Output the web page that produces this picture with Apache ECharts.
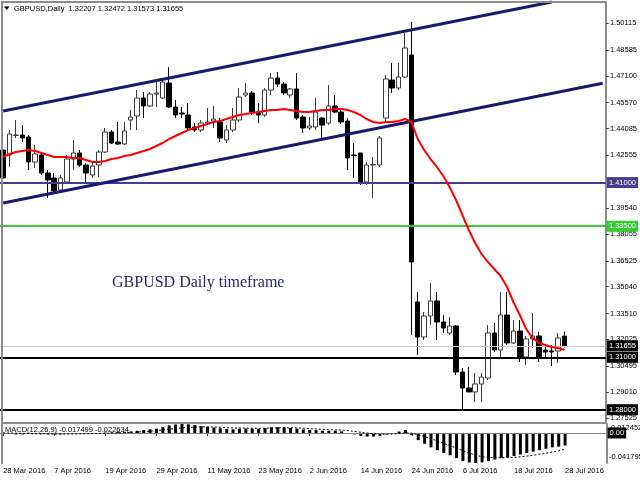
<!DOCTYPE html>
<html><head><meta charset="utf-8">
<script src="https://cdn.jsdelivr.net/npm/echarts@6/dist/echarts.min.js"></script>
<style>html,body{margin:0;padding:0;background:#fff}#c{width:640px;height:480px}</style>
</head><body><div id="c"></div>
<script>
// ---- categories (trading days) ----
const dates = [
'28 Mar 2016','29 Mar 2016','30 Mar 2016','31 Mar 2016',
'1 Apr 2016','4 Apr 2016','5 Apr 2016','6 Apr 2016','7 Apr 2016','8 Apr 2016','11 Apr 2016','12 Apr 2016','13 Apr 2016','14 Apr 2016','15 Apr 2016','18 Apr 2016','19 Apr 2016','20 Apr 2016','21 Apr 2016','22 Apr 2016','25 Apr 2016','26 Apr 2016','27 Apr 2016','28 Apr 2016','29 Apr 2016',
'2 May 2016','3 May 2016','4 May 2016','5 May 2016','6 May 2016','9 May 2016','10 May 2016','11 May 2016','12 May 2016','13 May 2016','16 May 2016','17 May 2016','18 May 2016','19 May 2016','20 May 2016','23 May 2016','24 May 2016','25 May 2016','26 May 2016','27 May 2016','30 May 2016','31 May 2016',
'1 Jun 2016','2 Jun 2016','3 Jun 2016','6 Jun 2016','7 Jun 2016','8 Jun 2016','9 Jun 2016','10 Jun 2016','13 Jun 2016','14 Jun 2016','15 Jun 2016','16 Jun 2016','17 Jun 2016','20 Jun 2016','21 Jun 2016','22 Jun 2016','23 Jun 2016','24 Jun 2016','27 Jun 2016','28 Jun 2016','29 Jun 2016','30 Jun 2016',
'1 Jul 2016','4 Jul 2016','5 Jul 2016','6 Jul 2016','7 Jul 2016','8 Jul 2016','11 Jul 2016','12 Jul 2016','13 Jul 2016','14 Jul 2016','15 Jul 2016','18 Jul 2016','19 Jul 2016','20 Jul 2016','21 Jul 2016','22 Jul 2016','25 Jul 2016','26 Jul 2016','27 Jul 2016','28 Jul 2016',
'29 Jul 2016','1 Aug 2016','2 Aug 2016','3 Aug 2016','4 Aug 2016','5 Aug 2016'
];
const barCount = 89;

// ---- OHLC ----
const open = [
1.42863,1.42577,1.43693,1.43722,1.43607,1.42177,1.42577,1.41547,1.41261,1.40574,
1.41032,1.42348,1.42692,1.42005,1.41433,1.42005,1.42749,1.43894,1.43321,1.43207,
1.44580,1.44809,1.45839,1.45382,1.46068,1.45839,1.46698,1.45324,1.44981,1.44867,
1.44180,1.44008,1.44409,1.44523,1.44466,1.43436,1.44008,1.44580,1.46011,1.46126,
1.45038,1.44867,1.46297,1.46984,1.46641,1.46011,1.46355,1.44752,1.44123,1.44180,
1.44695,1.44409,1.45382,1.45038,1.44523,1.42577,1.42692,1.41032,1.42005,1.42005,
1.44695,1.46870,1.46412,1.47041,1.48300,1.34165,1.32161,1.33363,1.34222,1.33020,
1.32390,1.32791,1.30158,1.29243,1.29014,1.29472,1.29815,1.32390,1.31417,1.33421,
1.31818,1.32505,1.31017,1.32047,1.32219,1.31417,1.31360,1.31360,1.32207
];
const close = [
1.41261,1.43779,1.43722,1.43550,1.42177,1.42635,1.41547,1.41147,1.40517,1.41261,
1.42348,1.42692,1.42005,1.41547,1.41948,1.42749,1.43894,1.43264,1.43207,1.43951,
1.44752,1.45839,1.45382,1.46068,1.46126,1.46755,1.45324,1.44867,1.44924,1.44123,
1.44008,1.44409,1.44466,1.44638,1.43550,1.44008,1.44580,1.45897,1.46126,1.45038,
1.44867,1.46297,1.46984,1.46641,1.46126,1.46355,1.44695,1.44123,1.44237,1.45038,
1.44294,1.45382,1.45038,1.44466,1.42406,1.42549,1.41032,1.42005,1.42034,1.43550,
1.46927,1.46412,1.47041,1.48701,1.36454,1.32161,1.33363,1.34222,1.33020,1.32677,
1.32791,1.30158,1.29243,1.29014,1.29472,1.29872,1.32390,1.31417,1.33421,1.31818,
1.32505,1.31017,1.32047,1.32219,1.31017,1.31303,1.31303,1.32104,1.31655
];
const low = [
1.41089,1.41891,1.43550,1.43321,1.41719,1.41833,1.41433,1.40116,1.40403,1.40460,
1.40975,1.41719,1.41891,1.40975,1.41261,1.41318,1.42692,1.43207,1.43150,1.43150,
1.44008,1.44008,1.44695,1.45324,1.45324,1.45782,1.45267,1.44695,1.44695,1.44008,
1.43894,1.43894,1.44294,1.44123,1.43321,1.43264,1.43894,1.44466,1.45897,1.44867,
1.44409,1.44752,1.46011,1.46469,1.46011,1.45839,1.44580,1.43836,1.44008,1.44008,
1.43550,1.44294,1.44981,1.44351,1.41719,1.41261,1.40860,1.40860,1.40116,1.41891,
1.44409,1.46126,1.46297,1.46984,1.32276,1.31131,1.31990,1.32848,1.31990,1.32390,
1.32276,1.29987,1.27984,1.29014,1.28442,1.28442,1.29701,1.31303,1.31017,1.31704,
1.31761,1.30731,1.30559,1.31532,1.30731,1.30902,1.30502,1.30674,1.31573
];
const high = [
1.43035,1.44008,1.44580,1.44294,1.43722,1.43150,1.42749,1.41719,1.41547,1.41433,
1.42577,1.43436,1.42863,1.42120,1.42177,1.42863,1.44123,1.44008,1.44466,1.44466,
1.45153,1.46297,1.46183,1.46183,1.46870,1.46984,1.47614,1.45725,1.45324,1.45553,
1.44409,1.44580,1.45267,1.45382,1.44695,1.44294,1.45267,1.46412,1.46698,1.46240,
1.45553,1.46412,1.47270,1.47327,1.46755,1.46412,1.47270,1.44867,1.44752,1.45839,
1.44752,1.46583,1.46011,1.45153,1.44695,1.43264,1.42692,1.42177,1.42463,1.43665,
1.47156,1.47843,1.47843,1.49559,1.50189,1.34737,1.33592,1.35252,1.34737,1.33421,
1.33306,1.32848,1.30387,1.30445,1.30101,1.30101,1.32848,1.32963,1.34737,1.34737,
1.33134,1.33134,1.32219,1.33535,1.32448,1.31589,1.31704,1.32390,1.32472
];

// ---- moving average (red) ----
const ma = [
1.42463,1.42635,1.42749,1.42806,1.42863,1.42806,1.42692,1.42577,1.42463,1.42463,
1.42463,1.42406,1.42406,1.42291,1.42177,1.42177,1.42234,1.42348,1.42406,1.42520,
1.42577,1.42692,1.42806,1.42921,1.43092,1.43264,1.43493,1.43665,1.43836,1.44008,
1.44123,1.44237,1.44351,1.44466,1.44523,1.44638,1.44752,1.44867,1.44924,1.44981,
1.45038,1.45096,1.45153,1.45153,1.45210,1.45153,1.45096,1.45038,1.45038,1.45096,
1.45153,1.45153,1.45210,1.45210,1.45153,1.45038,1.44867,1.44638,1.44466,1.44409,
1.44466,1.44466,1.44523,1.44638,1.44466,1.43493,1.42863,1.42348,1.41891,1.41376,
1.40746,1.40002,1.39143,1.38285,1.37541,1.36912,1.36454,1.36053,1.35653,1.35023,
1.34165,1.33421,1.32620,1.32104,1.31818,1.31704,1.31589,1.31532,1.31417
];

// ---- MACD(12,26,9) ----
const macdHist = [
-0.0010,-0.0015,-0.0020,-0.0020,-0.0015,-0.0015,-0.0018,-0.0020,-0.0022,-0.0020,
-0.0015,-0.0010,-0.0008,-0.0005,-0.0003,0.0000,0.0005,0.0008,0.0012,0.0016,
0.0020,0.0030,0.0040,0.0050,0.0060,0.0080,0.0105,0.0118,0.0124,0.0120,
0.0110,0.0095,0.0085,0.0075,0.0065,0.0055,0.0050,0.0058,0.0062,0.0060,
0.0058,0.0068,0.0078,0.0080,0.0078,0.0070,0.0060,0.0050,0.0042,0.0040,
0.0032,0.0030,0.0030,0.0022,0.0000,-0.0020,-0.0040,-0.0050,-0.0050,-0.0040,
-0.0020,0.0000,0.0020,0.0040,-0.0030,-0.0100,-0.0150,-0.0200,-0.0240,-0.0280,
-0.0310,-0.0350,-0.0390,-0.0410,-0.0418,-0.0410,-0.0390,-0.0370,-0.0350,-0.0340,
-0.0320,-0.0300,-0.0280,-0.0260,-0.0240,-0.0220,-0.0200,-0.0190,-0.017499
];
const macdSignal = [
0.0000,-0.0002,-0.0004,-0.0006,-0.0008,-0.0010,-0.0011,-0.0012,-0.0014,-0.0015,
-0.0015,-0.0014,-0.0013,-0.0011,-0.0009,-0.0007,-0.0005,-0.0002,0.0000,0.0003,
0.0008,0.0012,0.0018,0.0025,0.0033,0.0042,0.0052,0.0062,0.0070,0.0078,
0.0082,0.0084,0.0084,0.0082,0.0078,0.0074,0.0070,0.0070,0.0068,0.0066,
0.0065,0.0066,0.0068,0.0070,0.0072,0.0072,0.0070,0.0066,0.0060,0.0056,
0.0050,0.0046,0.0043,0.0040,0.0032,0.0022,0.0010,-0.0002,-0.0012,-0.0018,
-0.0018,-0.0015,-0.0008,0.0002,-0.0005,-0.0025,-0.0050,-0.0080,-0.0110,-0.0145,
-0.0178,-0.0212,-0.0248,-0.0280,-0.0310,-0.0330,-0.0340,-0.0345,-0.0345,-0.0343,
-0.0340,-0.0332,-0.0322,-0.0310,-0.0297,-0.0282,-0.0265,-0.0248,-0.022634
];

// ---- price scale ticks ----
const priceTicks = [1.50115,1.48585,1.47100,1.45570,1.44085,1.42555,1.39540,1.38055,1.36525,1.35040,1.33510,1.32025,1.30495,1.29010,1.27525];
const priceMin = 1.27297, priceMax = 1.51334;
const macdMin = -0.041795, macdMax = 0.012452;

// ---- horizontal levels & trend channel ----
const levelBlue = 1.41000, levelGreen = 1.38500, levelBlack1 = 1.31000, levelBlack2 = 1.28000, lastPrice = 1.31655;
const channelUpper = [[0, 1.45096], [86, 1.51331]];
const channelLower = [[0, 1.39830], [94, 1.46681]];

const headerText = 'GBPUSD,Daily  1.32207 1.32472 1.31573 1.31655';
const macdText = 'MACD(12,26,9) -0.017499 -0.022634';
const noteText = 'GBPUSD Daily timeframe';

const candles = [];
for (let i = 0; i < barCount; i++) candles.push([open[i], close[i], low[i], high[i]]);

const F = 'Liberation Sans';
const FS = 7.5;
function lvl(v, lineColor, boxColor, w) {
  return {
    yAxis: v,
    lineStyle: {color: lineColor, width: w, type: 'solid'},
    label: {show: true, position: 'end', formatter: v.toFixed(5), color: '#fff',
      backgroundColor: boxColor, padding: [2, 2, 1, 2], fontSize: FS, fontFamily: F, distance: 1}
  };
}
const showIdx = (idx) => idx % 8 === 0 && idx <= 88;

const chart = echarts.init(document.getElementById('c'), null, {renderer: 'canvas'});
chart.setOption({
  animation: false,
  backgroundColor: '#fff',
  textStyle: {fontFamily: F},
  grid: [
    {left: -1, top: 2, width: 607.6, height: 420},
    {left: -1, top: 424, width: 607.6, height: 39}
  ],
  xAxis: [
    {type: 'category', gridIndex: 0, data: dates, boundaryGap: true,
     axisLine: {show: false}, axisTick: {show: false}, axisLabel: {show: false}, splitLine: {show: false}},
    {type: 'category', gridIndex: 1, data: dates, boundaryGap: true,
     axisLine: {show: true, lineStyle: {color: '#8c8c8c', width: 1}},
     axisTick: {show: true, alignWithLabel: true, interval: showIdx, length: 3, lineStyle: {color: '#444'}},
     axisLabel: {show: true, interval: showIdx, align: 'left', fontSize: FS, color: '#000', margin: 4, fontFamily: F},
     splitLine: {show: false}}
  ],
  yAxis: [
    {type: 'value', gridIndex: 0, position: 'right', min: priceMin, max: priceMax, scale: true,
     axisLine: {show: true, lineStyle: {color: '#8c8c8c', width: 2}},
     axisTick: {show: true, customValues: priceTicks, length: 3, lineStyle: {color: '#444'}},
     axisLabel: {show: true, customValues: priceTicks, formatter: (v) => v.toFixed(5), fontSize: FS, color: '#000', margin: 4, fontFamily: F},
     splitLine: {show: false}},
    {type: 'value', gridIndex: 1, position: 'right', min: macdMin, max: macdMax,
     axisLine: {show: true, lineStyle: {color: '#8c8c8c', width: 2}},
     axisTick: {show: false}, axisLabel: {show: false}, splitLine: {show: false}}
  ],
  series: [
    {type: 'candlestick', xAxisIndex: 0, yAxisIndex: 0, data: candles, barWidth: 5,
     itemStyle: {color: '#fff', color0: '#000', borderColor: '#3a3a3a', borderColor0: '#000', borderWidth: 1},
     markLine: {silent: true, symbol: ['none', 'none'], animation: false, precision: 6,
       data: [
         lvl(lastPrice, '#c8c8c8', '#000', 1),
         lvl(levelBlue, '#483d8b', '#483d8b', 2),
         lvl(levelGreen, '#32cd32', '#32cd32', 2),
         lvl(levelBlack1, '#000', '#000', 2),
         lvl(levelBlack2, '#000', '#000', 2),
         [{coord: channelUpper[0], lineStyle: {color: '#191970', width: 3, type: 'solid'}, label: {show: false}},
          {coord: channelUpper[1]}],
         [{coord: channelLower[0], lineStyle: {color: '#191970', width: 3, type: 'solid'}, label: {show: false}},
          {coord: channelLower[1]}]
       ]}},
    {type: 'line', xAxisIndex: 0, yAxisIndex: 0, data: ma, symbol: 'none', z: 5,
     lineStyle: {color: '#ff0000', width: 2}, itemStyle: {color: '#ff0000'}},
    {type: 'bar', xAxisIndex: 1, yAxisIndex: 1, data: macdHist, barWidth: 3,
     itemStyle: {color: '#000'},
     markLine: {silent: true, symbol: ['none', 'none'], animation: false, precision: 6,
       data: [{yAxis: 0, lineStyle: {color: '#808080', width: 1, type: 'solid'},
         label: {show: true, position: 'end', formatter: '0.00', color: '#fff', backgroundColor: '#000',
           padding: [2, 2, 1, 2], fontSize: FS, fontFamily: F, distance: 1}}]}},
    {type: 'line', xAxisIndex: 1, yAxisIndex: 1, data: macdSignal, symbol: 'none', z: 5,
     lineStyle: {color: '#000', width: 1, type: [2, 2]}}
  ],
  graphic: [
    {type: 'line', shape: {x1: 2, y1: 1, x2: 2, y2: 464}, style: {stroke: '#8c8c8c', lineWidth: 2}, z: 100},
    {type: 'line', shape: {x1: 1, y1: 2, x2: 607, y2: 2}, style: {stroke: '#8c8c8c', lineWidth: 2}, z: 100},
    {type: 'line', shape: {x1: 1, y1: 423, x2: 607, y2: 423}, style: {stroke: '#8c8c8c', lineWidth: 2}, z: 100},
    {type: 'polygon', shape: {points: [[4, 6.5], [9.5, 6.5], [6.75, 10]]}, style: {fill: '#000'}, z: 100},
    {type: 'text', x: 14, y: 8.5, style: {text: headerText, font: FS + 'px ' + F, fill: '#000', textVerticalAlign: 'middle'}, z: 100},
    {type: 'text', x: 5, y: 430, style: {text: macdText, font: FS + 'px ' + F, fill: '#000', textVerticalAlign: 'middle'}, z: 100},
    {type: 'text', x: 611, y: 428, style: {text: '0.012452', font: FS + 'px ' + F, fill: '#000', textVerticalAlign: 'middle'}, z: 100},
    {type: 'text', x: 609, y: 457, style: {text: '-0.041795', font: FS + 'px ' + F, fill: '#000', textVerticalAlign: 'middle'}, z: 100},
    {type: 'text', x: 112, y: 283, style: {text: noteText, font: '16px "Liberation Serif"', fill: '#262673', textVerticalAlign: 'middle'}, z: 100}
  ]
});
</script>
</body></html>
